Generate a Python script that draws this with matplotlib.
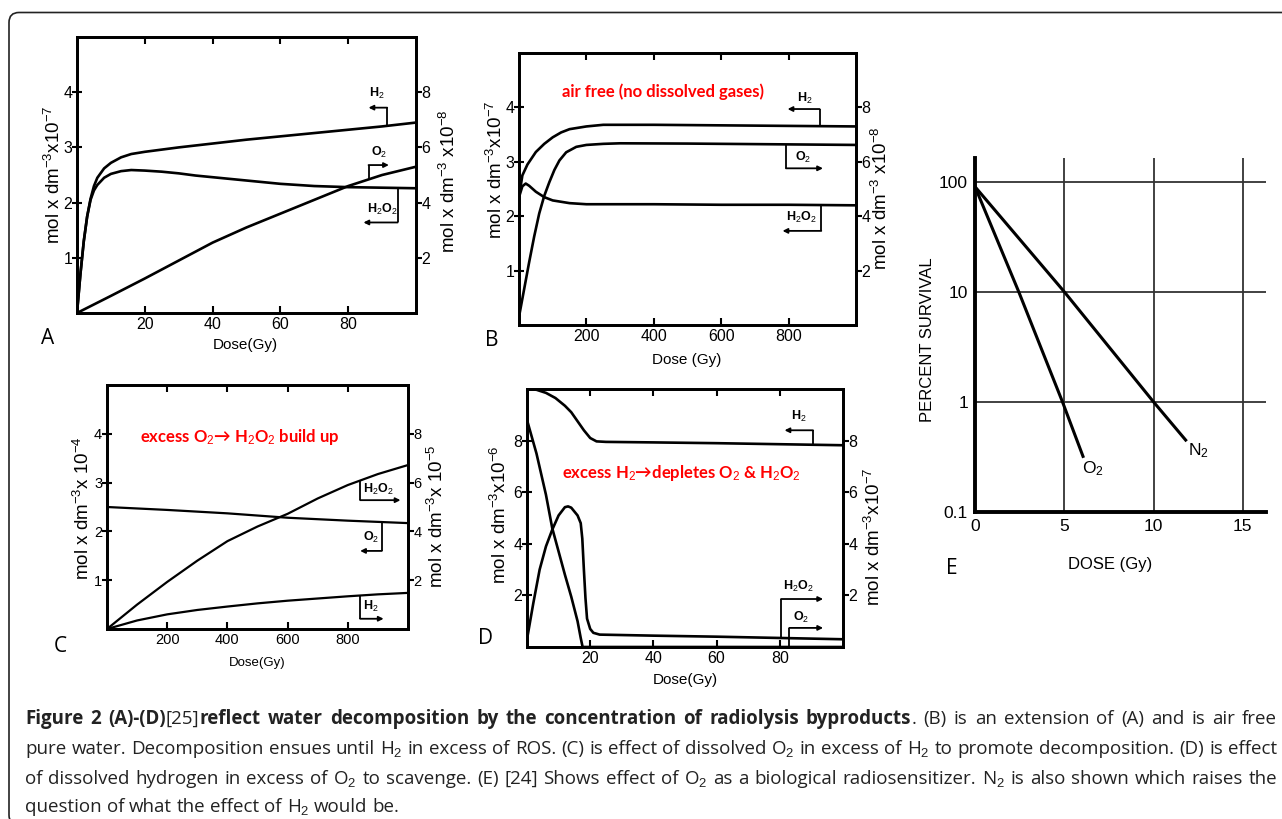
import numpy as np
import matplotlib
matplotlib.use("Agg")
import matplotlib.pyplot as plt
from matplotlib import font_manager
from matplotlib.patches import FancyBboxPatch
from matplotlib.transforms import IdentityTransform

# ---- panel A: 0-100 Gy (left axis x1e-7, right axis x1e-8) ----
a_dose_h2 = [0, 1, 2, 3, 4, 5, 6, 8, 10, 13, 16, 20, 25, 30, 40, 50, 60, 70, 80, 90, 100]
a_h2 = [0, 0.7, 1.3, 1.75, 2.07, 2.3, 2.45, 2.62, 2.72, 2.82, 2.88, 2.92, 2.96, 3.0,
        3.07, 3.14, 3.2, 3.26, 3.32, 3.38, 3.45]
a_dose_h2o2 = [0, 1, 2, 3, 4, 5, 6, 8, 10, 13, 16, 20, 25, 30, 35, 40, 50, 60, 70, 80, 90, 100]
a_h2o2 = [0, 0.7, 1.3, 1.75, 2.05, 2.22, 2.32, 2.45, 2.52, 2.57, 2.59, 2.58, 2.56, 2.53,
          2.49, 2.46, 2.4, 2.34, 2.3, 2.28, 2.27, 2.26]
a_dose_o2 = [0, 10, 20, 30, 40, 50, 60, 70, 80, 90, 100]
a_o2 = [0, 0.62, 1.25, 1.9, 2.55, 3.1, 3.6, 4.1, 4.6, 5.0, 5.3]

# ---- panel B: 0-1000 Gy, air free ----
b_dose_h2 = [0, 10, 25, 50, 75, 100, 125, 150, 200, 250, 300, 400, 600, 800, 1000]
b_h2 = [2.35, 2.75, 2.95, 3.18, 3.33, 3.45, 3.54, 3.6, 3.65, 3.68, 3.68, 3.68, 3.67, 3.66, 3.65]
b_dose_h2o2 = [0, 10, 20, 30, 50, 75, 100, 150, 200, 400, 600, 800, 1000]
b_h2o2 = [2.35, 2.55, 2.6, 2.56, 2.45, 2.35, 2.29, 2.24, 2.22, 2.22, 2.21, 2.21, 2.2]
b_dose_o2 = [0, 15, 30, 45, 60, 75, 90, 105, 120, 140, 170, 200, 250, 300, 500, 800, 1000]
b_o2 = [0.3, 1.3, 2.3, 3.25, 4.1, 4.75, 5.25, 5.7, 6.05, 6.35, 6.55, 6.62, 6.66, 6.68,
        6.67, 6.64, 6.62]

# ---- panel C: excess O2 (left x1e-4, right x1e-5) ----
c_dose_o2 = [0, 200, 400, 600, 800, 1000]
c_o2 = [2.5, 2.44, 2.37, 2.28, 2.22, 2.17]
c_dose = [0, 100, 200, 300, 400, 500, 600, 700, 800, 900, 1000]
c_h2o2 = [0, 1.0, 1.93, 2.8, 3.6, 4.2, 4.72, 5.35, 5.9, 6.35, 6.72]
c_h2 = [0, 0.35, 0.6, 0.78, 0.92, 1.05, 1.16, 1.25, 1.34, 1.42, 1.48]

# ---- panel D: excess H2 (left x1e-6, right x1e-7) ----
d_dose_h2 = [0, 3, 6, 9, 12, 14, 16, 18, 20, 22, 25, 40, 60, 80, 90, 100]
d_h2 = [10, 9.97, 9.85, 9.65, 9.35, 9.1, 8.75, 8.4, 8.1, 7.97, 7.95, 7.93, 7.9, 7.86, 7.84, 7.82]
d_dose_o2 = [0, 3, 6, 8, 10, 12, 14, 16, 17, 17.6, 100]
d_o2 = [8.8, 7.5, 5.9, 4.6, 3.7, 2.8, 1.95, 1.0, 0.35, 0, 0]
d_dose_h2o2 = [0, 2, 4, 6, 8, 10, 12, 13, 14, 15, 16, 17, 17.5, 18, 18.5, 19, 20, 21, 23,
               40, 60, 80, 100]
d_h2o2 = [0.3, 1.7, 3.0, 3.9, 4.55, 5.1, 5.42, 5.45, 5.4, 5.25, 5.1, 4.8, 4.2, 3.0, 1.9,
          1.1, 0.7, 0.55, 0.48, 0.44, 0.4, 0.35, 0.3]

# ---- panel E: cell survival ----
e_dose_o2 = [0, 2.45, 4.9, 6.05]
e_surv_o2 = [90, 10, 1, 0.32]
e_dose_n2 = [0, 5, 10, 11.8]
e_surv_n2 = [90, 10, 1, 0.45]
e_yticks = [0.1, 1, 10, 100]
e_yticklabels = ["0.1", "1", "10", "100"]
e_xticks = [0, 5, 10, 15]


def have(name):
    try:
        font_manager.findfont(font_manager.FontProperties(family=name),
                              fallback_to_default=False)
        return True
    except ValueError:
        return False


NARROW = ["Liberation Sans Narrow", "Liberation Sans"] if have("Liberation Sans Narrow") \
    else ["Liberation Sans", "DejaVu Sans"]
CAP = ["Open Sans", "DejaVu Sans"]
plt.rcParams["font.family"] = NARROW
plt.rcParams["mathtext.fontset"] = "custom"
plt.rcParams["mathtext.rm"] = NARROW[0]
plt.rcParams["mathtext.it"] = NARROW[0]
plt.rcParams["mathtext.bf"] = NARROW[0] + ":bold"

W, H = 1282, 819
fig = plt.figure(figsize=(W / 100, H / 100), dpi=100)


def px_axes(l, t, r, b):
    return fig.add_axes([l / W, 1 - b / H, (r - l) / W, (b - t) / H])


def ftext(x, y, s, **kw):
    return fig.text(x / W, 1 - y / H, s, **kw)


def bracket(ax, xs, ys, xv, ylev, xend, label, lx, ly):
    y0 = np.interp(xv, xs, ys)
    ax.plot([xv, xv], [y0, ylev], color="k", lw=1.3, solid_capstyle="butt")
    ax.annotate("", xy=(xend, ylev), xytext=(xv, ylev),
                arrowprops=dict(arrowstyle="-|>", lw=1.3, color="k",
                                mutation_scale=7, shrinkA=0, shrinkB=0))
    ax.text(lx, ly, label, ha="center", va="center", fontsize=9, fontweight="bold")


def conc_axes(rect, xlim, xticks, ylim, lticks, rticks, tick_fs=11.5):
    ax = px_axes(*rect)
    ax.set_xlim(*xlim)
    ax.set_ylim(*ylim)
    ax.set_xticks(xticks)
    ax.set_yticks(lticks)
    ax.tick_params(axis="y", direction="inout", length=7, width=1.5, labelsize=tick_fs, pad=0)
    ax.tick_params(axis="x", direction="in", length=5, width=1.5, labelsize=tick_fs,
                   top=True, pad=3)
    for s in ax.spines.values():
        s.set_linewidth(2)
    ax2 = ax.twinx()
    ax2.set_ylim(0, ylim[1] * (2 if rticks[-1] > lticks[-1] else 1))
    ax2.set_yticks(rticks)
    ax2.tick_params(axis="y", direction="out", length=4, width=1.5, labelsize=tick_fs, pad=0)
    for s in ax2.spines.values():
        s.set_linewidth(2)
    return ax, ax2


LW = 1.9
LAB = dict(rotation=90, ha="center", va="center", fontsize=13.5)
RED = dict(color="#ff0000", fontsize=12, fontweight="bold", family=["Lato", "DejaVu Sans"])

# ---------------- A ----------------
ax, ax2 = conc_axes((77, 37, 416, 313), (0, 100), [20, 40, 60, 80], (0, 5), [1, 2, 3, 4], [2, 4, 6, 8])
ax.plot(a_dose_h2, a_h2, color="k", lw=LW)
ax.plot(a_dose_h2o2, a_h2o2, color="k", lw=LW)
ax2.plot(a_dose_o2, a_o2, color="k", lw=LW)
bracket(ax, a_dose_h2, a_h2, 91.5, 3.72, 86, "H$_2$", 88.5, 3.97)
bracket(ax2, a_dose_o2, a_o2, 86, 5.36, 92, "O$_2$", 89, 5.8)
bracket(ax, a_dose_h2o2, a_h2o2, 94.6, 1.64, 84.5, "H$_2$O$_2$", 90, 1.88)
ftext(54, 175, "mol x dm$^{-3}$x10$^{-7}$", **LAB)
ftext(449, 181, "mol x dm$^{-3}$ x10$^{-8}$", **LAB)
ftext(245, 345, "Dose(Gy)", ha="center", va="center", fontsize=11)
ftext(48, 338, "A", ha="center", va="center", fontsize=15, family=CAP)

# ---------------- B ----------------
ax, ax2 = conc_axes((519, 53, 856, 325), (0, 1000), [200, 400, 600, 800], (0, 5), [1, 2, 3, 4], [2, 4, 6, 8])
ax.plot(b_dose_h2, b_h2, color="k", lw=LW)
ax.plot(b_dose_h2o2, b_h2o2, color="k", lw=LW)
ax2.plot(b_dose_o2, b_o2, color="k", lw=LW)
bracket(ax, b_dose_h2, b_h2, 892, 3.97, 797, "H$_2$", 847, 4.17)
bracket(ax2, b_dose_o2, b_o2, 792, 5.76, 902, "O$_2$", 842, 6.15)
bracket(ax, b_dose_h2o2, b_h2o2, 897, 1.73, 782, "H$_2$O$_2$", 837, 1.97)
ftext(496, 170, "mol x dm$^{-3}$x10$^{-7}$", **LAB)
ftext(881, 198, "mol x dm$^{-3}$ x10$^{-8}$", **LAB)
ftext(687, 360, "Dose (Gy)", ha="center", va="center", fontsize=11)
ftext(492, 340, "B", ha="center", va="center", fontsize=15, family=CAP)
ftext(663, 92, "air free (no dissolved gases)", ha="center", va="center", **RED)

# ---------------- C ----------------
ax, ax2 = conc_axes((107, 385, 408, 629), (0, 1000), [200, 400, 600, 800], (0, 5), [1, 2, 3, 4], [2, 4, 6, 8],
                    tick_fs=10.5)
ax.plot(c_dose_o2, c_o2, color="k", lw=LW - 0.3)
ax2.plot(c_dose, c_h2o2, color="k", lw=LW - 0.3)
ax2.plot(c_dose, c_h2, color="k", lw=LW - 0.3)
bracket(ax2, c_dose, c_h2o2, 841, 5.28, 975, "H$_2$O$_2$", 902, 5.72)
bracket(ax, c_dose_o2, c_o2, 913, 1.6, 841, "O$_2$", 877, 1.87)
bracket(ax2, c_dose, c_h2, 841, 0.42, 919, "H$_2$", 875, 0.92)
ftext(83, 508, "mol x dm$^{-3}$x 10$^{-4}$", **LAB)
ftext(437, 516, "mol x dm$^{-3}$x 10$^{-5}$", **LAB)
ftext(257, 663, "Dose(Gy)", ha="center", va="center", fontsize=9.5)
ftext(60, 646, "C", ha="center", va="center", fontsize=15, family=CAP)
ftext(240, 437, "excess O$_2$\u2192 H$_2$O$_2$ build up", ha="center", va="center", **RED)

# ---------------- D ----------------
ax, ax2 = conc_axes((527, 389, 843, 647), (0, 100), [20, 40, 60, 80], (0, 10), [2, 4, 6, 8], [2, 4, 6, 8])
ax.plot(d_dose_h2, d_h2, color="k", lw=LW)
ax.plot(d_dose_o2, d_o2, color="k", lw=LW)
ax2.plot(d_dose_h2o2, d_h2o2, color="k", lw=LW)
bracket(ax, d_dose_h2, d_h2, 90.5, 8.4, 81.5, "H$_2$", 86, 8.92)
bracket(ax2, d_dose_h2o2, d_h2o2, 80.4, 1.86, 93.7, "H$_2$O$_2$", 86, 2.35)
bracket(ax, d_dose_o2, d_o2, 83, 0.74, 93.7, "O$_2$", 86.8, 1.16)
ftext(500, 515, "mol x dm$^{-3}$x10$^{-6}$", **LAB)
ftext(874, 537, "mol x dm$^{-3}$x10$^{-7}$", **LAB)
ftext(685, 680, "Dose(Gy)", ha="center", va="center", fontsize=11)
ftext(485, 638, "D", ha="center", va="center", fontsize=15, family=CAP)
ftext(681, 473, "excess H$_2$\u2192depletes O$_2$ & H$_2$O$_2$", ha="center", va="center", **RED)

# ---------------- E ----------------
ax = px_axes(975, 158, 1266, 512)
ax.set_yscale("log")
ax.set_xlim(0, 16.3)
ax.set_ylim(0.1, 164)
ax.plot(e_dose_o2, e_surv_o2, color="k", lw=2.2)
ax.plot(e_dose_n2, e_surv_n2, color="k", lw=2.2)
ax.set_yticks(e_yticks)
ax.set_yticklabels(e_yticklabels)
ax.minorticks_off()
ax.set_xticks(e_xticks)
ax.tick_params(length=0, labelsize=12.5, pad=5)
ax.grid(True, color="#333333", lw=1.3)
for side in ("top", "right"):
    ax.spines[side].set_visible(False)
for side in ("left", "bottom"):
    ax.spines[side].set_linewidth(2.8)
ax.text(e_dose_o2[-1] + 0.55, e_surv_o2[-1] * 0.78, "O$_2$", ha="center", va="center", fontsize=12.5)
ax.text(e_dose_n2[-1] + 0.7, e_surv_n2[-1] * 0.8, "N$_2$", ha="center", va="center", fontsize=12.5)
ftext(927, 340, "PERCENT SURVIVAL", rotation=90, ha="center", va="center", fontsize=12)
ftext(1110, 565, "DOSE (Gy)", ha="center", va="center", fontsize=12)
ftext(952, 568, "E", ha="center", va="center", fontsize=15, family=CAP)

# ---------------- border ----------------
fig.patches.append(FancyBboxPatch((9, -6), 1300, H - 12.5 + 6,
                                  boxstyle="round,pad=0,rounding_size=10",
                                  transform=IdentityTransform(), fill=False,
                                  ec="#222222", lw=1.2))

# ---------------- caption ----------------
cap_lines = [
    [("Figure 2 (A)-(D)", "bold"), ("[25]", "normal"),
     ("reflect water decomposition by the concentration of radiolysis byproducts", "bold"),
     (". (B) is an extension of (A) and is air free", "normal")],
    [("pure water. Decomposition ensues until H$_2$ in excess of ROS. (C) is effect of dissolved "
      "O$_2$ in excess of H$_2$ to promote decomposition. (D) is effect", "normal")],
    [("of dissolved hydrogen in excess of O$_2$ to scavenge. (E) [24] Shows effect of O$_2$ as a "
      "biological radiosensitizer. N$_2$ is also shown which raises the", "normal")],
    [("question of what the effect of H$_2$ would be.", "normal")],
]
cap_baselines = [724, 754, 784, 812]
CAP_X0, CAP_X1 = 25, 1277

renderer = fig.canvas.get_renderer()


def split_words(segments):
    words, cur = [], []
    for text, weight in segments:
        parts = text.split(" ")
        for i, p in enumerate(parts):
            if i > 0 and cur:
                words.append(cur)
                cur = []
            if p:
                cur.append((p, weight))
    if cur:
        words.append(cur)
    return words


def measure(p, weight, fs):
    t = ftext(0, 0, p, fontsize=fs, fontweight=weight, family=CAP)
    w = t.get_window_extent(renderer).width
    t.remove()
    return w


def space_width(fs):
    return measure("a a", "normal", fs) - measure("aa", "normal", fs)


def draw_line(segments, base, justify, fs):
    words = split_words(segments)
    objs, widths = [], []
    for w in words:
        pieces, width = [], 0
        for p, weight in w:
            t = ftext(0, base, p, fontsize=fs, fontweight=weight, family=CAP,
                      va="baseline", ha="left", color="#222222")
            width += t.get_window_extent(renderer).width
            pieces.append(t)
        objs.append(pieces)
        widths.append(width)
    gap = (CAP_X1 - CAP_X0 - sum(widths)) / (len(words) - 1) if justify else space_width(fs)
    x = CAP_X0
    for pieces in objs:
        for t in pieces:
            t.set_x(x / W)
            x += t.get_window_extent(renderer).width
        x += gap


cap_fs = 14.5
for _ in range(30):
    sp = space_width(cap_fs)
    need = 0
    for seg in cap_lines[:3]:
        words = split_words(seg)
        tot = sum(measure(p, wt, cap_fs) for w in words for p, wt in w) + sp * (len(words) - 1)
        need = max(need, tot)
    if need <= CAP_X1 - CAP_X0:
        break
    cap_fs -= 0.25

for i, (seg, base) in enumerate(zip(cap_lines, cap_baselines)):
    draw_line(seg, base, i < 3, cap_fs)

fig.savefig("out.png", dpi=100, facecolor="white")
